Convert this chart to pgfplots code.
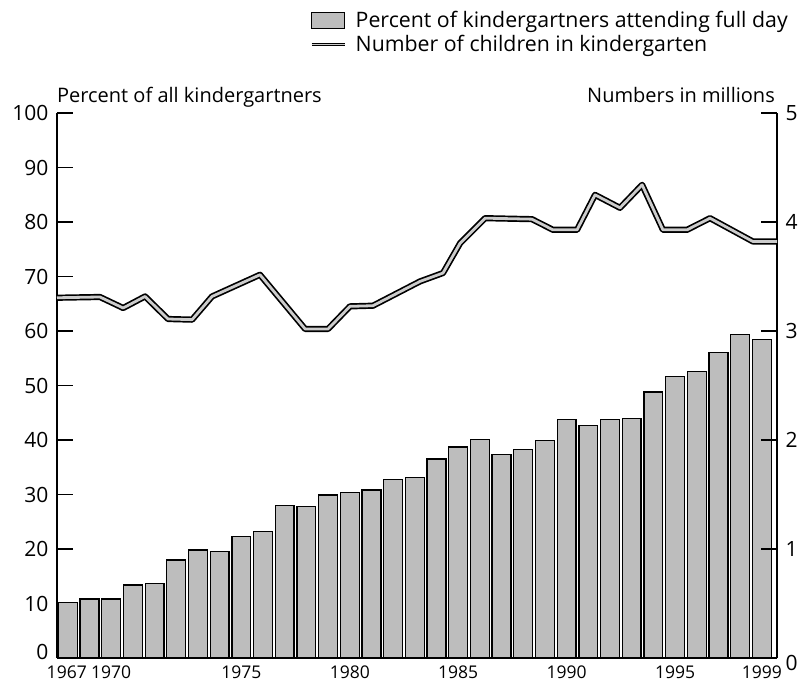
\documentclass[border=0pt]{standalone}
\usepackage{fontspec}
\setmainfont{Open Sans}
\usepackage{pgfplots}
\pgfplotsset{compat=1.18}

\definecolor{barfill}{gray}{0.74}
\definecolor{lineinner}{gray}{0.8}

\pgfplotstableread{
year pct
1967 10.2
1968 10.8
1969 10.8
1970 13.4
1971 13.7
1972 18.0
1973 19.8
1974 19.6
1975 22.3
1976 23.2
1977 28.0
1978 27.8
1979 29.9
1980 30.4
1981 30.8
1982 32.7
1983 33.1
1984 36.5
1985 38.7
1986 40.1
1987 37.3
1988 38.2
1989 39.9
1990 43.7
1991 42.6
1992 43.8
1993 44.0
1994 48.8
1995 51.6
1996 52.6
1997 56.0
1998 59.3
1999 58.4
}\pcttable

\pgfplotstableread{
year num
1966.50 3.305
1968.48 3.312
1969.55 3.211
1970.56 3.317
1971.62 3.110
1972.73 3.104
1973.65 3.317
1975.86 3.516
1977.94 3.019
1979.00 3.019
1980.01 3.226
1981.07 3.232
1983.24 3.455
1984.30 3.532
1985.09 3.806
1986.24 4.035
1988.40 4.026
1989.37 3.928
1990.48 3.928
1991.31 4.249
1992.46 4.130
1993.48 4.341
1994.44 3.928
1995.55 3.928
1996.61 4.035
1998.59 3.821
1999.70 3.821
}\numtable

\begin{document}
\begin{tikzpicture}[font=\fontsize{20}{24}\selectfont]
\path[use as bounding box] (-57pt,-27pt) rectangle (744pt,658pt);
\begin{axis}[
  at={(0pt,0pt)}, anchor=south west,
  scale only axis, width=720pt, height=545pt,
  xmin=1966.5, xmax=1999.7, ymin=0, ymax=100,
  axis x line=bottom, axis y line=left,
  x axis line style={line width=2.4pt, -},
  y axis line style={line width=1.6pt, -},
  xtick={1966.95,1969.0,1975,1980,1985,1990,1995,1999},
  xticklabels={1967,1970,1975,1980,1985,1990,1995,1999},
  x tick style={draw=none},
  ytick={10,20,...,100},
  extra y ticks={0},
  extra y tick style={yticklabel style={yshift=6pt}},
  tick align=inside,
  major tick length=16pt,
  y tick style={line width=1.6pt, black},
  /pgf/number format/assume math mode=true,
  yticklabel style={font=\fontsize{21}{24}\selectfont, xshift=-5pt},
  xticklabel style={font=\fontsize{17.5}{21}\selectfont, yshift=-4pt},
  clip=false,
]
\addplot[ybar, bar width=0.87, fill=barfill, draw=black, line width=1.3pt] table[x=year, y=pct] {\pcttable};
\node[anchor=base west, inner sep=0pt] at ([yshift=10.3pt]axis description cs:0,1) {Percent of all kindergartners};
\node[anchor=base east, inner sep=0pt] at ([xshift=-2pt,yshift=10.3pt]axis description cs:1,1) {Numbers in millions};
\end{axis}
\begin{axis}[
  at={(0pt,0pt)}, anchor=south west,
  scale only axis, width=720pt, height=545pt,
  xmin=1966.5, xmax=1999.7, ymin=0, ymax=5,
  axis x line=none, axis y line=right,
  y axis line style={line width=1.6pt, -},
  ytick={1,...,5},
  extra y ticks={0},
  extra y tick style={yticklabel style={yshift=-5pt}},
  tick align=inside,
  major tick length=16pt,
  y tick style={line width=1.6pt, black},
  /pgf/number format/assume math mode=true,
  yticklabel style={font=\fontsize{21}{24}\selectfont, xshift=5pt},
  clip=false,
  legend style={at={(axis description cs:0.351,1.19)}, anchor=north west, draw=none, fill=none, inner sep=0pt, row sep=2pt, nodes={inner sep=2pt}, font=\fontsize{21.3}{25}\selectfont},
  legend cell align=left,
]
\addlegendimage{legend image code/.code={\draw[fill=barfill, draw=black, line width=1.3pt] (0pt,-8pt) rectangle (33pt,8pt); \path (39pt,0pt);}}
\addlegendentry{Percent of kindergartners attending full day}
\addplot[black, line width=1.7pt, double=lineinner, double distance=2.8pt, line join=round,
  legend image code/.code={\draw[black, line width=1.1pt, double=lineinner, double distance=1.2pt] (0pt,0pt) -- (33pt,0pt); \path (39pt,0pt);}]
  table[x=year, y=num] {\numtable};
\addlegendentry{Number of children in kindergarten}
\end{axis}
\end{tikzpicture}
\end{document}
